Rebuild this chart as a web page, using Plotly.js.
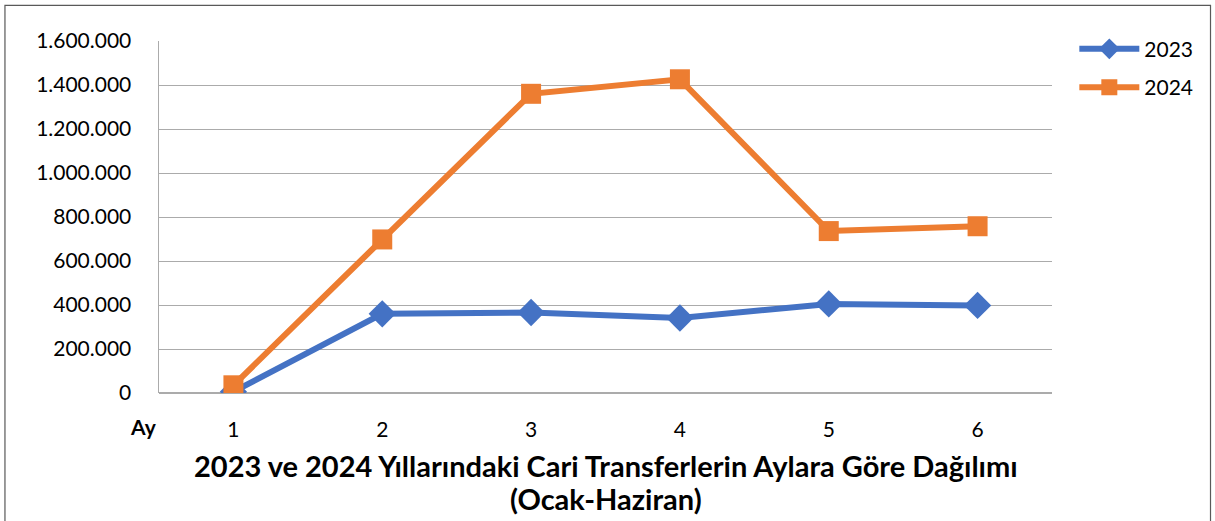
<!DOCTYPE html>
<html>
<head>
<meta charset="utf-8">
<script src="https://cdn.plot.ly/plotly-3.0.1.min.js"></script>
<style>html,body{margin:0;padding:0;background:#fff;}#chart{width:1215px;height:521px;}</style>
</head>
<body>
<div id="chart"></div>
<script>
const months = ["1", "2", "3", "4", "5", "6"];
const series2023 = [6000, 360000, 366000, 341000, 405000, 398000];
const series2024 = [35000, 698000, 1360000, 1426000, 736000, 758000];
const yTicks = [0, 200000, 400000, 600000, 800000, 1000000, 1200000, 1400000, 1600000];
const titleLine1 = "2023 ve 2024 Yıllarındaki Cari Transferlerin Aylara Göre Dağılımı";
const titleLine2 = "(Ocak-Haziran)";
const xLabel = "Ay";

const font = "Lato, 'Open Sans', sans-serif";

const traces = [
  {
    x: months, y: series2023, name: "2023", type: "scatter", mode: "lines+markers",
    legendgroup: "g1",
    line: {color: "#4472C4", width: 6},
    marker: {symbol: "diamond", size: 21, color: "#4472C4"}
  },
  {
    x: months, y: series2024, name: "2024", type: "scatter", mode: "lines+markers",
    legendgroup: "g2",
    line: {color: "#ED7D31", width: 6},
    marker: {symbol: "square", size: 20, color: "#ED7D31"}
  }
];

const layout = {
  width: 1215, height: 521,
  margin: {l: 159, r: 163, t: 41, b: 128, pad: 0},
  paper_bgcolor: "#fff", plot_bgcolor: "#fff",
  separators: ",.",
  font: {family: font, size: 21, color: "#000"},
  showlegend: true,
  legend: {
    x: 1.025, xanchor: "left", y: 1.035, yanchor: "top",
    font: {family: font, size: 21, color: "#000"},
    bgcolor: "rgba(0,0,0,0)", tracegroupgap: 8, itemwidth: 60
  },
  xaxis: {
    type: "category", range: [-0.5, 5.5],
    showgrid: false, zeroline: false,
    showline: false, ticks: "",
    tickfont: {family: font, size: 21, color: "#000"},
    ticklabelstandoff: 22, fixedrange: true
  },
  yaxis: {
    range: [0, 1600000], tickvals: yTicks, tickformat: ",d",
    showgrid: true, gridcolor: "#ABABAB", gridwidth: 1,
    zeroline: true, zerolinecolor: "#ABABAB", zerolinewidth: 1.5,
    showline: true, linecolor: "#ABABAB", linewidth: 1.5,
    ticks: "", tickfont: {family: font, size: 21, color: "#000"},
    ticklabelstandoff: 22, fixedrange: true
  },
  annotations: [
    {xref: "paper", yref: "paper", x: 0.5, y: -0.206, xanchor: "center", yanchor: "middle",
     text: "<b>" + titleLine1 + "</b>", showarrow: false,
     font: {family: font, size: 29, color: "#000"}},
    {xref: "paper", yref: "paper", x: 0.5, y: -0.3, xanchor: "center", yanchor: "middle",
     text: "<b>" + titleLine2 + "</b>", showarrow: false,
     font: {family: font, size: 29, color: "#000"}},
    {xref: "paper", yref: "paper", x: -0.0, y: -0.095, xanchor: "right", yanchor: "middle",
     text: "<b>" + xLabel + "</b>", showarrow: false,
     font: {family: font, size: 21, color: "#000"}}
  ],
  shapes: [
    {type: "rect", xref: "paper", yref: "paper",
     x0: -0.1725, x1: 1.1775, y0: -0.37, y1: 1.101,
     line: {color: "#595959", width: 1.2}, fillcolor: "rgba(0,0,0,0)", layer: "below"}
  ]
};

Plotly.newPlot("chart", traces, layout, {displayModeBar: false, staticPlot: true});
</script>
</body>
</html>
